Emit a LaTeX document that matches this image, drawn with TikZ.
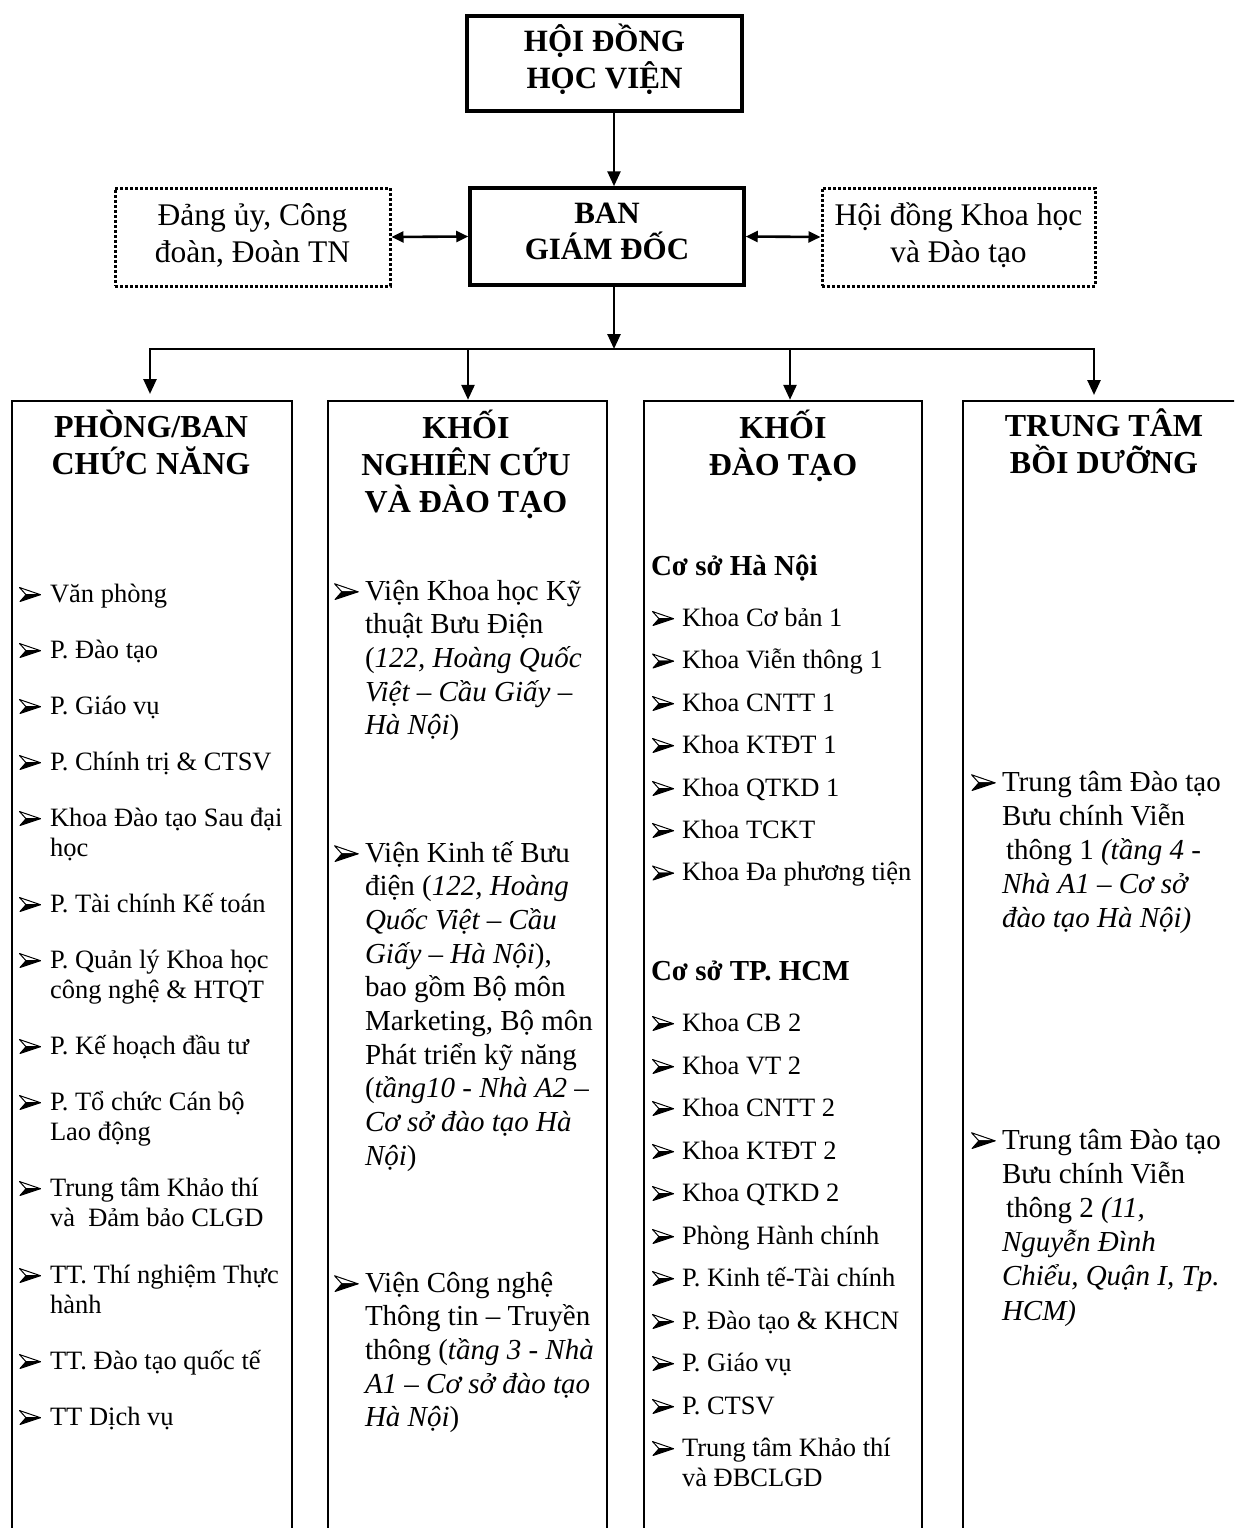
\documentclass[tikz,border=0pt]{standalone}
\usepackage{fontspec}
\setmainfont{Liberation Serif}
\usetikzlibrary{arrows.meta}
\newcommand\fA{\fontsize{26.5}{30.5}\selectfont\lineskiplimit=-100pt\relax}
\newcommand\fB{\fontsize{29}{33.7}\selectfont\lineskiplimit=-100pt\relax}
\newcommand\fBB{\fontsize{29}{34.2}\selectfont\lineskiplimit=-100pt\relax}
\newcommand\fH{\fontsize{32}{37}\selectfont\bfseries\lineskiplimit=-100pt\relax}
\newcommand\fT{\fontsize{31}{36.5}\selectfont\bfseries\lineskiplimit=-100pt\relax}
\newcommand\fS{\fontsize{31.5}{37}\selectfont\lineskiplimit=-100pt\relax}
\newcommand\fC{\fontsize{29}{33}\selectfont\bfseries\lineskiplimit=-100pt\relax}
\newcommand\fl{\rule{0pt}{30pt}}
\begin{document}
\begin{tikzpicture}[x=1pt,y=-1pt,
  topbox/.style={draw, line width=3.5pt, inner sep=0pt, align=center, font=\fT},
  sidebox/.style={draw, line width=3pt, dash pattern=on 3pt off 2pt, inner sep=0pt, align=center, font=\fS},
  colbox/.style={draw, line width=2.5pt, outer sep=0pt, inner sep=0pt, anchor=north west, minimum height=1200pt},
  itm/.style={anchor=north west, yshift=30pt, inner sep=0pt, outer sep=0pt, align=left},
  hdg/.style={anchor=north, yshift=35pt, inner sep=0pt, align=center, font=\fH},
  arr/.style={line width=2.6pt, -{Triangle[width=13pt,length=15pt]}},
  darr/.style={line width=2.6pt, {Triangle[width=11pt,length=12pt]}-{Triangle[width=11pt,length=12pt]}},
  bus/.style={line width=2.8pt, line cap=rect},
  bul/.pic={
    \draw[line width=1pt, line join=round, fill=white] (0.5,-14.5) -- (21.5,-7.3) -- (7,-7.3) -- cycle;
    \filldraw[line width=1pt, line join=round] (7,-7.3) -- (21.5,-7.3) -- (1,-0.5) -- cycle;
  }]
\useasboundingbox (0,0) rectangle (1234,1528);
\clip (0,0) rectangle (1234,1528);

% top boxes
\node[topbox, minimum width=275pt, minimum height=95pt] (hd) at (604.5,63.5)
  {\rule{0pt}{32pt}HỘI ĐỒNG\\HỌC VIỆN\rule[-19pt]{0pt}{19pt}};
\node[topbox, minimum width=274pt, minimum height=97pt] (bgd) at (607,236.5)
  {\rule{0pt}{32pt}BAN\\GIÁM ĐỐC\rule[-22pt]{0pt}{22pt}};
\node[sidebox, minimum width=275pt, minimum height=98pt] (lb) at (252.5,237)
  {\rule{0pt}{32pt}Đảng ủy, Công\\đoàn, Đoàn TN\rule[-19pt]{0pt}{19pt}};
\node[sidebox, minimum width=273pt, minimum height=98pt] (rb) at (958.5,237)
  {\rule{0pt}{32pt}Hội đồng Khoa học\\và Đào tạo\rule[-19pt]{0pt}{19pt}};

% columns
\node[colbox, minimum width=280pt] (c1) at (12,401) {};
\node[colbox, minimum width=279pt] (c2) at (328,401) {};
\node[colbox, minimum width=278pt] (c3) at (644,401) {};
\node[colbox, minimum width=300pt] (c4) at (963,401) {};

% connectors
\coordinate (ax) at (614,0);
\coordinate (j) at (614,349);
\coordinate (b1) at (150,349);
\coordinate (b2) at (468,349);
\coordinate (b3) at (790,349);
\coordinate (b4) at (1094,349);
\draw[arr] (hd.south -| ax) -- (bgd.north -| ax);
\draw[darr] (lb.east) -- (bgd.west);
\draw[darr] (bgd.east) -- (rb.west);
\draw[arr] (bgd.south -| ax) -- (j);
\draw[bus] (b1) -- (b4);
\draw[arr, shorten >=7pt] (b1) -- (b1 |- c1.north);
\draw[arr, shorten >=1.2pt] (b2) -- (b2 |- c2.north);
\draw[arr, shorten >=1.2pt] (b3) -- (b3 |- c3.north);
\draw[arr, shorten >=6pt] (b4) -- (b4 |- c4.north);

% headings
\node[hdg] (h1) at (151,437) {\rule{0pt}{35pt}PHÒNG/BAN\\CHỨC NĂNG};
\node[hdg] (h2) at (466,438) {\rule{0pt}{35pt}KHỐI\\NGHIÊN CỨU\\VÀ ĐÀO TẠO};
\node[hdg] (h3) at (783,438) {\rule{0pt}{35pt}KHỐI\\ĐÀO TẠO};
\node[hdg] (h4) at (1104,436) {\rule{0pt}{35pt}TRUNG TÂM\\BỒI DƯỠNG};

% column 1
\node[itm, font=\fA] (a1) at (50,602) {\fl Văn phòng};
\node[itm, font=\fA] (a2) at (50,658) {\fl P. Đào tạo};
\node[itm, font=\fA] (a3) at (50,714) {\fl P. Giáo vụ};
\node[itm, font=\fA] (a4) at (50,770) {\fl P. Chính trị \& CTSV};
\node[itm, font=\fA] (a5) at (50,826) {\fl Khoa Đào tạo Sau đại\\học};
\node[itm, font=\fA] (a6) at (50,912) {\fl P. Tài chính Kế toán};
\node[itm, font=\fA] (a7) at (50,968) {\fl P. Quản lý Khoa học\\công nghệ \& HTQT};
\node[itm, font=\fA] (a8) at (50,1054) {\fl P. Kế hoạch đầu tư};
\node[itm, font=\fA] (a9) at (50,1110) {\fl P. Tổ chức Cán bộ\\Lao động};
\node[itm, font=\fA] (a10) at (50,1196) {\fl Trung tâm Khảo thí\\và\ \ Đảm bảo CLGD};
\node[itm, font=\fA] (a11) at (50,1283) {\fl TT. Thí nghiệm Thực\\hành};
\node[itm, font=\fA] (a12) at (50,1369) {\fl TT. Đào tạo quốc tế};
\node[itm, font=\fA] (a13) at (50,1425) {\fl TT Dịch vụ};

% column 2
\node[itm, font=\fB] (v1) at (365,600) {\fl Viện Khoa học Kỹ\\thuật Bưu Điện\\(\textit{122, Hoàng Quốc}\\\textit{Việt – Cầu Giấy –}\\\textit{Hà Nội})};
\node[itm, font=\fB] (v2) at (365,862) {\fl Viện Kinh tế Bưu\\điện (\textit{122, Hoàng}\\\textit{Quốc Việt – Cầu}\\\textit{Giấy – Hà Nội}),\\bao gồm Bộ môn\\Marketing, Bộ môn\\Phát triển kỹ năng\\(\textit{tầng10 - Nhà A2 –}\\\textit{Cơ sở đào tạo Hà}\\\textit{Nội})};
\node[itm, font=\fB] (v3) at (365,1292) {\fl Viện Công nghệ\\Thông tin – Truyền\\thông (\textit{tầng 3 - Nhà}\\\textit{A1 – Cơ sở đào tạo}\\\textit{Hà Nội})};

% column 3
\node[itm, font=\fC] (s1) at (651,575) {\fl Cơ sở Hà Nội};
\node[itm, font=\fA] (k1) at (682,626) {\fl Khoa Cơ bản 1};
\node[itm, font=\fA] (k2) at (682,668.5) {\fl Khoa Viễn thông 1};
\node[itm, font=\fA] (k3) at (682,711) {\fl Khoa CNTT 1};
\node[itm, font=\fA] (k4) at (682,753) {\fl Khoa KTĐT 1};
\node[itm, font=\fA] (k5) at (682,796) {\fl Khoa QTKD 1};
\node[itm, font=\fA] (k6) at (682,838) {\fl Khoa TCKT};
\node[itm, font=\fA] (k7) at (682,880.5) {\fl Khoa Đa phương tiện};
\node[itm, font=\fC] (s2) at (651,980) {\fl Cơ sở TP. HCM};
\node[itm, font=\fA] (m1) at (682,1031) {\fl Khoa CB 2};
\node[itm, font=\fA] (m2) at (682,1074) {\fl Khoa VT 2};
\node[itm, font=\fA] (m3) at (682,1116) {\fl Khoa CNTT 2};
\node[itm, font=\fA] (m4) at (682,1159) {\fl Khoa KTĐT 2};
\node[itm, font=\fA] (m5) at (682,1201) {\fl Khoa QTKD 2};
\node[itm, font=\fA] (m6) at (682,1244) {\fl Phòng Hành chính};
\node[itm, font=\fA] (m7) at (682,1286) {\fl P. Kinh tế-Tài chính};
\node[itm, font=\fA] (m8) at (682,1329) {\fl P. Đào tạo \& KHCN};
\node[itm, font=\fA] (m9) at (682,1371) {\fl P. Giáo vụ};
\node[itm, font=\fA] (m10) at (682,1414) {\fl P. CTSV};
\node[itm, font=\fA] (m11) at (682,1456) {\fl Trung tâm Khảo thí\\và ĐBCLGD};

% column 4
\node[itm, font=\fBB] (t1) at (1002,791) {\fl Trung tâm Đào tạo\\Bưu chính Viễn\\\hskip4pt thông 1 \textit{(tầng 4 -}\\\textit{Nhà A1 – Cơ sở}\\\textit{đào tạo Hà Nội)}};
\node[itm, font=\fBB] (t2) at (1002,1149) {\fl Trung tâm Đào tạo\\Bưu chính Viễn\\\hskip4pt thông 2 \textit{(11,}\\\textit{Nguyễn Đình}\\\textit{Chiểu, Quận I, Tp.}\\\textit{HCM)}};

% bullets
\foreach \n in {a1,a2,a3,a4,a5,a6,a7,a8,a9,a10,a11,a12,a13}
  \pic at ([xshift=-31pt,yshift=-30pt]\n.north west) {bul};
\foreach \n in {k1,k2,k3,k4,k5,k6,k7,m1,m2,m3,m4,m5,m6,m7,m8,m9,m10,m11}
  \pic at ([xshift=-30pt,yshift=-30pt]\n.north west) {bul};
\foreach \n in {v1,v2,v3}
  \pic[scale=1.12] at ([xshift=-31pt,yshift=-30pt]\n.north west) {bul};
\foreach \n in {t1,t2}
  \pic[scale=1.12] at ([xshift=-31pt,yshift=-30pt]\n.north west) {bul};
\end{tikzpicture}
\end{document}
